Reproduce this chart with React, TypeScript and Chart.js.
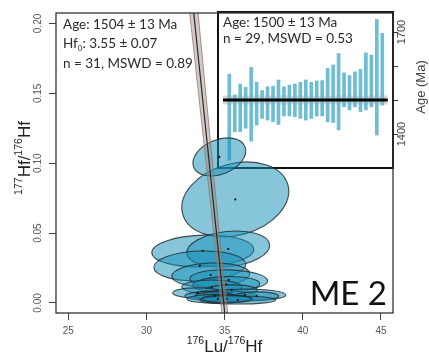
import React, { useEffect, useRef } from "react";
import { Chart, registerables } from "chart.js";
Chart.register(...registerables);

// ---------- main isochron plot ----------
const xTicks = [25, 30, 35, 40, 45];
const yTicks = [0, 0.05, 0.1, 0.15, 0.2];
const xMin = 24.21, xMax = 45.77, yMin = -0.0072, yMax = 0.2075;

// isochron line and its error envelope (Lu/Hf as a function of Hf/Hf)
const isoY = [-0.012, 0.212];
const isoX = [35.05, 32.98];
const envY = [-0.012, 0.04, 0.212];
const envLo = [34.86, 34.4, 32.72];
const envHi = [35.24, 34.74, 33.26];

// error ellipses: centre, half-extent (x, y) and correlation
const ellX = [35.68, 34.66, 33.6, 35.23, 33.41, 34.11, 35.26, 35.1, 34.18, 35.45, 33.28, 34.75, 36.29, 34.37, 37.05, 34.56, 35.84, 35.14];
const ellY = [0.0741, 0.1045, 0.0372, 0.0386, 0.0265, 0.02, 0.0165, 0.0132, 0.0114, 0.0093, 0.0072, 0.005, 0.0057, 0.005, 0.005, 0.0029, 0.0021, 0.0029];
const ellSx = [3.42, 1.69, 3.26, 2.65, 2.94, 2.49, 2.49, 2.14, 1.92, 1.66, 1.6, 2.3, 2.62, 1.28, 1.41, 1.98, 2.43, 1.6];
const ellSy = [0.0268, 0.0136, 0.0114, 0.0129, 0.0107, 0.0086, 0.0072, 0.0057, 0.005, 0.0036, 0.0036, 0.0036, 0.0043, 0.0029, 0.0029, 0.0032, 0.0029, 0.0025];
const ellRho = [0.22, 0.32, 0.1, 0.2, 0.1, 0.1, -0.1, 0.1, 0, 0, 0, 0, 0, 0, 0, 0, 0, 0];

// ---------- inset weighted-mean plot ----------
const grainNo = [1, 2, 3, 4, 5, 6, 7, 8, 9, 10, 11, 12, 13, 14, 15, 16, 17, 18, 19, 20, 21, 22, 23, 24, 25, 26, 27, 28, 29];
const ageLo = [1323, 1407, 1407, 1417, 1379, 1426, 1446, 1441, 1436, 1428, 1453, 1453, 1451, 1446, 1441, 1446, 1453, 1453, 1436, 1434, 1412, 1480, 1471, 1480, 1466, 1471, 1480, 1397, 1485];
const ageHi = [1576, 1515, 1547, 1537, 1596, 1552, 1528, 1539, 1541, 1559, 1539, 1544, 1547, 1552, 1559, 1552, 1556, 1557, 1593, 1603, 1637, 1580, 1572, 1583, 1590, 1639, 1632, 1737, 1696];
const meanAge = 1500;
const meanErr = 13;
const meanSpan = [-0.15, 30.0];
const insetXMin = -1.07, insetXMax = 30.96, insetYMin = 1300, insetYMax = 1759;
const insetTicks = [1400, 1500, 1600, 1700];
const insetLabeled = [1400, 1700];

const SANS = "'Liberation Sans', Arial, sans-serif";
const ANNO = "Lato, 'Liberation Sans', sans-serif";

type Part = { t: string; size: number; dy: number };
function drawRich(ctx: CanvasRenderingContext2D, parts: Part[], x: number, y: number, family: string, align: string) {
  const widths = parts.map((p) => {
    ctx.font = `${p.size}px ${family}`;
    return ctx.measureText(p.t).width;
  });
  const total = widths.reduce((a, b) => a + b, 0);
  let cx = align === "center" ? x - total / 2 : align === "right" ? x - total : x;
  ctx.textAlign = "left";
  ctx.textBaseline = "alphabetic";
  parts.forEach((p, i) => {
    ctx.font = `${p.size}px ${family}`;
    ctx.fillText(p.t, cx, y + p.dy);
    cx += widths[i];
  });
}

const ellipsePlugin = {
  id: "ellipses",
  beforeDatasetsDraw(chart: any) {
    const { ctx, chartArea, scales } = chart;
    const xs = scales.x, ys = scales.y;
    const kx = xs.getPixelForValue(1) - xs.getPixelForValue(0);
    const ky = ys.getPixelForValue(1) - ys.getPixelForValue(0);
    ctx.save();
    ctx.beginPath();
    ctx.rect(chartArea.left, chartArea.top, chartArea.right - chartArea.left, chartArea.bottom - chartArea.top);
    ctx.clip();
    for (let i = 0; i < ellX.length; i++) {
      const a = (kx * ellSx[i]) ** 2;
      const d = (ky * ellSy[i]) ** 2;
      const b = ellRho[i] * kx * ellSx[i] * ky * ellSy[i];
      const tr = (a + d) / 2;
      const disc = Math.sqrt(Math.max(0, tr * tr - (a * d - b * b)));
      const l1 = tr + disc, l2 = Math.max(0.01, tr - disc);
      const th = 0.5 * Math.atan2(2 * b, a - d);
      const cx = xs.getPixelForValue(ellX[i]);
      const cy = ys.getPixelForValue(ellY[i]);
      ctx.beginPath();
      ctx.ellipse(cx, cy, Math.sqrt(l1), Math.sqrt(l2), th, 0, Math.PI * 2);
      ctx.fillStyle = "rgba(25,145,185,0.52)";
      ctx.fill();
      ctx.lineWidth = 1.1;
      ctx.strokeStyle = "rgba(35,45,50,0.85)";
      ctx.stroke();
    }
    ctx.fillStyle = "#111";
    for (let i = 0; i < ellX.length; i++) {
      ctx.beginPath();
      ctx.arc(xs.getPixelForValue(ellX[i]), ys.getPixelForValue(ellY[i]), 1.1, 0, Math.PI * 2);
      ctx.fill();
    }
    ctx.restore();
  },
};

const mainDecor = {
  id: "mainDecor",
  afterDraw(chart: any) {
    const { ctx, chartArea: ca } = chart;
    ctx.save();
    ctx.strokeStyle = "#333";
    ctx.lineWidth = 1.3;
    ctx.strokeRect(ca.left, ca.top, ca.right - ca.left, ca.bottom - ca.top);

    ctx.fillStyle = "#2a2a2a";
    drawRich(ctx, [{ t: "Age: 1504 \u00b1 13 Ma", size: 13.5, dy: 0 }], 63, 29, ANNO, "left");
    drawRich(ctx, [
      { t: "Hf", size: 13.5, dy: 0 },
      { t: "0", size: 8, dy: 3 },
      { t: ": 3.55 \u00b1 0.07", size: 13.5, dy: 0 },
    ], 63, 48, ANNO, "left");
    drawRich(ctx, [{ t: "n = 31, MSWD = 0.89", size: 13.5, dy: 0 }], 63, 68, ANNO, "left");

    ctx.fillStyle = "#111";
    drawRich(ctx, [{ t: "ME 2", size: 33, dy: 0 }], 387, 305, ANNO, "right");

    // axis titles
    ctx.fillStyle = "#222";
    drawRich(ctx, [
      { t: "176", size: 10.5, dy: -8 },
      { t: "Lu/", size: 17, dy: 0 },
      { t: "176", size: 10.5, dy: -8 },
      { t: "Hf", size: 17, dy: 0 },
    ], (ca.left + ca.right) / 2, 352, SANS, "center");
    ctx.translate(30, 158);
    ctx.rotate(-Math.PI / 2);
    drawRich(ctx, [
      { t: "177", size: 10.5, dy: -8 },
      { t: "Hf/", size: 17, dy: 0 },
      { t: "176", size: 10.5, dy: -8 },
      { t: "Hf", size: 17, dy: 0 },
    ], 0, 0, SANS, "center");
    ctx.restore();
  },
};

const insetDecor = {
  id: "insetDecor",
  afterDraw(chart: any) {
    const { ctx, chartArea: ca } = chart;
    ctx.save();
    ctx.strokeStyle = "#111";
    ctx.lineWidth = 2;
    ctx.strokeRect(ca.left, ca.top, ca.right - ca.left, ca.bottom - ca.top);
    ctx.fillStyle = "#2a2a2a";
    drawRich(ctx, [{ t: "Age: 1500 \u00b1 13 Ma", size: 13.5, dy: 0 }], 223, 27, ANNO, "left");
    drawRich(ctx, [{ t: "n = 29, MSWD = 0.53", size: 13.5, dy: 0 }], 223, 43, ANNO, "left");
    ctx.fillStyle = "#444";
    ctx.translate(425, 87);
    ctx.rotate(-Math.PI / 2);
    drawRich(ctx, [{ t: "Age (Ma)", size: 13, dy: 0 }], 0, 0, SANS, "center");
    ctx.restore();
  },
};

export default function App() {
  const mainRef = useRef<HTMLCanvasElement>(null);
  const insetRef = useRef<HTMLCanvasElement>(null);

  useEffect(() => {
    document.body.style.margin = "0";

    const inset = new Chart(insetRef.current as HTMLCanvasElement, {
      type: "bar",
      data: {
        datasets: [
          {
            type: "line",
            data: meanSpan.map((x) => ({ x, y: meanAge - meanErr })),
            borderWidth: 0,
            pointRadius: 0,
            fill: false,
            order: 5,
          } as any,
          {
            type: "line",
            data: meanSpan.map((x) => ({ x, y: meanAge + meanErr })),
            borderWidth: 0,
            pointRadius: 0,
            fill: "-1",
            backgroundColor: "rgba(200,165,160,0.5)",
            order: 4,
          } as any,
          {
            type: "bar",
            data: grainNo.map((g, i) => ({ x: g, y: [ageLo[i], ageHi[i]] })),
            backgroundColor: "#6ebdd3",
            barThickness: 3,
            order: 2,
          } as any,
          {
            type: "line",
            data: meanSpan.map((x) => ({ x, y: meanAge })),
            borderColor: "#000",
            borderWidth: 3,
            pointRadius: 0,
            fill: false,
            order: 1,
          } as any,
        ],
      },
      options: {
        responsive: false,
        animation: false,
        events: [],
        layout: { padding: { left: 218, top: 12, right: 0, bottom: 196 } },
        plugins: { legend: { display: false }, tooltip: { enabled: false }, title: { display: false } },
        scales: {
          x: { type: "linear", min: insetXMin, max: insetXMax, display: false, offset: false },
          y: {
            type: "linear",
            position: "right",
            min: insetYMin,
            max: insetYMax,
            afterFit: (s: any) => { s.width = 36; },
            afterBuildTicks: (s: any) => { s.ticks = insetTicks.map((v) => ({ value: v })); },
            grid: { drawOnChartArea: false, drawTicks: true, tickLength: 5, color: "#333", lineWidth: 1 },
            border: { display: false },
            ticks: {
              autoSkip: false,
              minRotation: 90,
              maxRotation: 90,
              crossAlign: "center",
              padding: -8,
              color: "#444",
              font: { family: SANS, size: 11 },
              callback: (v: any) => (insetLabeled.includes(Number(v)) ? String(v) : ""),
            },
          },
        },
      } as any,
      plugins: [insetDecor],
    });

    const main = new Chart(mainRef.current as HTMLCanvasElement, {
      type: "line",
      data: {
        datasets: [
          {
            data: envY.map((y, i) => ({ x: envLo[i], y })),
            borderColor: "rgba(150,110,90,0.75)",
            borderWidth: 1,
            pointRadius: 0,
            fill: false,
            order: 3,
          },
          {
            data: envY.map((y, i) => ({ x: envHi[i], y })),
            borderColor: "rgba(150,110,90,0.75)",
            borderWidth: 1,
            pointRadius: 0,
            fill: "-1",
            backgroundColor: "rgba(150,140,135,0.45)",
            order: 2,
          },
          {
            data: isoY.map((y, i) => ({ x: isoX[i], y })),
            borderColor: "#2a2a2a",
            borderWidth: 1.2,
            pointRadius: 0,
            fill: false,
            order: 1,
          },
        ],
      },
      options: {
        indexAxis: "y",
        responsive: false,
        animation: false,
        events: [],
        layout: { padding: { left: 0, top: 13, right: 36, bottom: 0 } },
        plugins: { legend: { display: false }, tooltip: { enabled: false }, title: { display: false } },
        scales: {
          x: {
            type: "linear",
            position: "bottom",
            min: xMin,
            max: xMax,
            afterFit: (s: any) => { s.height = 51; },
            afterBuildTicks: (s: any) => { s.ticks = xTicks.map((v) => ({ value: v })); },
            grid: { drawOnChartArea: false, drawTicks: true, tickLength: 7, color: "#444", lineWidth: 1 },
            border: { display: false },
            ticks: {
              autoSkip: false,
              maxRotation: 0,
              padding: 5,
              color: "#555",
              font: { family: SANS, size: 10 },
              callback: (v: any) => String(v),
            },
          },
          y: {
            type: "linear",
            position: "left",
            min: yMin,
            max: yMax,
            afterFit: (s: any) => { s.width = 56; },
            afterBuildTicks: (s: any) => { s.ticks = yTicks.map((v) => ({ value: v })); },
            grid: { drawOnChartArea: false, drawTicks: true, tickLength: 7, color: "#444", lineWidth: 1 },
            border: { display: false },
            ticks: {
              autoSkip: false,
              minRotation: 90,
              maxRotation: 90,
              crossAlign: "center",
              padding: 1,
              color: "#555",
              font: { family: SANS, size: 10 },
              callback: (v: any) => Number(v).toFixed(2),
            },
          },
        },
      } as any,
      plugins: [ellipsePlugin, mainDecor],
    });

    return () => {
      main.destroy();
      inset.destroy();
    };
  }, []);

  return (
    <div style={{ position: "absolute", left: 0, top: 0, width: 429, height: 364, background: "#fff" }}>
      <canvas ref={insetRef} width={429} height={364} style={{ position: "absolute", left: 0, top: 0 }} />
      <canvas ref={mainRef} width={429} height={364} style={{ position: "absolute", left: 0, top: 0 }} />
    </div>
  );
}
